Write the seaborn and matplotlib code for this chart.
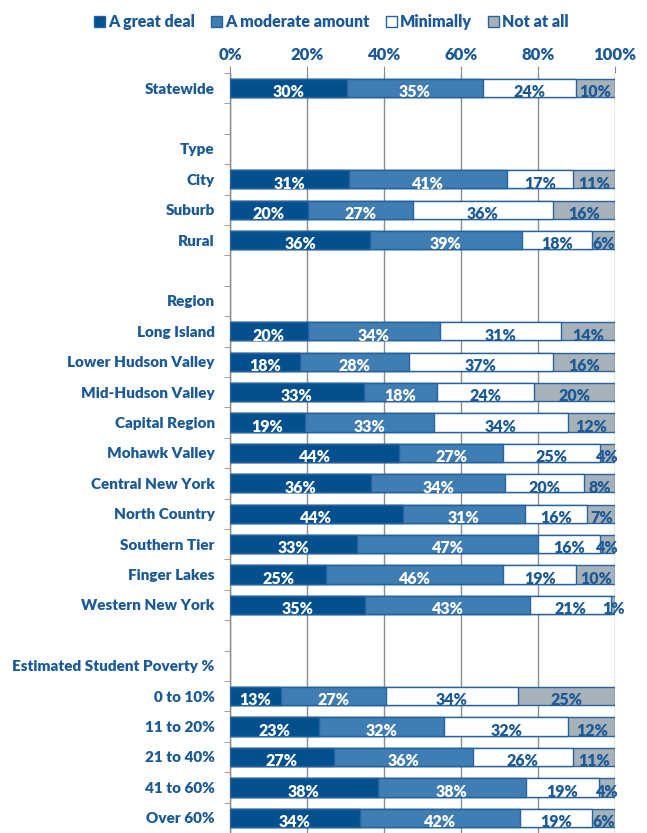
import numpy as np
import pandas as pd
import seaborn as sns
import matplotlib
matplotlib.use("Agg")
import matplotlib.pyplot as plt
from matplotlib.patches import Patch
from matplotlib.ticker import FixedLocator, PercentFormatter

sns.set_style("white")
plt.rcParams['font.family'] = ['Lato', 'DejaVu Sans']

# ---- data ----
rows = ["Statewide", " ", "Type", "City", "Suburb", "Rural", "  ", "Region",
        "Long Island", "Lower Hudson Valley", "Mid-Hudson Valley", "Capital Region",
        "Mohawk Valley", "Central New York", "North Country", "Southern Tier",
        "Finger Lakes", "Western New York", "   ", "Estimated Student Poverty %",
        "0 to 10%", "11 to 20%", "21 to 40%", "41 to 60%", "Over 60%"]
groups = ["Statewide", "City", "Suburb", "Rural",
          "Long Island", "Lower Hudson Valley", "Mid-Hudson Valley", "Capital Region",
          "Mohawk Valley", "Central New York", "North Country", "Southern Tier",
          "Finger Lakes", "Western New York",
          "0 to 10%", "11 to 20%", "21 to 40%", "41 to 60%", "Over 60%"]
great    = [30, 31, 20, 36, 20, 18, 33, 19, 44, 36, 44, 33, 25, 35, 13, 23, 27, 38, 34]
moderate = [35, 41, 27, 39, 34, 28, 18, 33, 27, 34, 31, 47, 46, 43, 27, 32, 36, 38, 42]
minimal  = [24, 17, 36, 18, 31, 37, 24, 34, 25, 20, 16, 16, 19, 21, 34, 32, 26, 19, 19]
notatall = [10, 11, 16, 6, 14, 16, 20, 12, 4, 8, 7, 4, 10, 1, 25, 12, 11, 4, 6]
series = ["A great deal", "A moderate amount", "Minimally", "Not at all"]

colors = ["#03508f", "#3f7db2", "#ffffff", "#a7b1b9"]
label_colors = ["white", "white", "#1b5a96", "#1b5a96"]
edge = "#2563a0"
text_blue = "#1b5a96"
W = "heavy"

vals = np.array([great, moderate, minimal, notatall], dtype=float)  # 4 x n
share = vals / vals.sum(axis=0) * 100
cum = np.cumsum(share, axis=0)

df = pd.DataFrame({
    "group": np.tile(groups, 4),
    "series": np.repeat(series, len(groups)),
    "value": vals.ravel(),
    "share": share.ravel(),
    "cum": cum.ravel(),
})

fig = plt.figure(figsize=(6.47, 8.33), dpi=100)
ax = fig.add_axes([0.3555, 0.0, 0.595, 0.9125])

for i in range(3, -1, -1):
    sub = df[df["series"] == series[i]]
    sns.barplot(data=sub, y="group", x="cum", order=rows, orient="h",
                color=colors[i], saturation=1, edgecolor=edge, linewidth=1.0,
                width=0.6, ax=ax, zorder=3)

# segment labels
for i in range(4):
    sub = df[df["series"] == series[i]]
    for _, r in sub.iterrows():
        y = rows.index(r["group"])
        ax.text(r["cum"] - r["share"] / 2, y + 0.14, f"{int(r['value'])}%",
                ha="center", va="center", fontsize=11.5, fontweight=W,
                color=label_colors[i], zorder=5)

ax.set_xlim(0, 100)
ax.set_ylim(len(rows) - 0.5, -0.5)
ax.set_xlabel("")
ax.set_ylabel("")

ax.xaxis.set_major_locator(FixedLocator([0, 20, 40, 60, 80, 100]))
ax.xaxis.set_major_formatter(PercentFormatter(decimals=0))
ax.xaxis.tick_top()
ax.tick_params(axis="x", which="major", length=5, color="#8c8c8c", pad=2,
               labelsize=12, labelcolor=text_blue)
for t in ax.get_xticklabels():
    t.set_fontweight(W)
ax.grid(axis="x", color="#8c8c8c", linewidth=1.0, zorder=0)
ax.grid(axis="y", visible=False)
ax.set_axisbelow(True)

ax.set_yticks(range(len(rows)))
ax.set_yticklabels(rows)
ax.yaxis.set_minor_locator(FixedLocator(np.arange(-0.5, len(rows), 1.0)))
ax.tick_params(axis="y", which="major", length=0, pad=11, labelsize=11,
               labelcolor=text_blue)
ax.tick_params(axis="y", which="minor", length=4, color="#8c8c8c", left=True)
for t in ax.get_yticklabels():
    t.set_fontweight(W)

for s in ["top", "right", "bottom"]:
    ax.spines[s].set_visible(False)
ax.spines["left"].set_color("#8c8c8c")
ax.spines["left"].set_linewidth(1.0)

handles = [Patch(facecolor=c, edgecolor=edge, linewidth=1.0) for c in colors]
fig.legend(handles, series, loc="upper center", bbox_to_anchor=(0.512, 1.0),
           ncol=4, frameon=False, handlelength=0.7, handleheight=0.7,
           handletextpad=0.2, columnspacing=1.0,
           prop={"weight": W, "size": 11.5}, labelcolor=text_blue)

fig.savefig("out.png", dpi=100)
